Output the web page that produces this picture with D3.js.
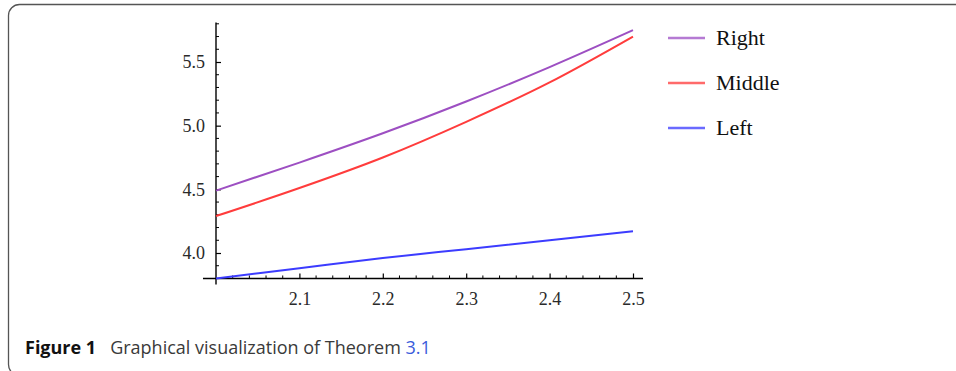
<!DOCTYPE html>
<html>
<head>
<meta charset="utf-8">
<script src="https://cdn.jsdelivr.net/npm/d3@7"></script>
<style>
  html, body { margin: 0; padding: 0; background: #fff; }
  .tick-label { font-family: "Liberation Serif", "Times New Roman", serif; font-size: 18px; fill: #2a2a2a; }
  .legend-label { font-family: "Liberation Serif", "Times New Roman", serif; font-size: 22px; fill: #111; }
</style>
</head>
<body>
<svg id="chart" width="956" height="371"></svg>
<script>
// values
const xValues = [2.0, 2.1, 2.2, 2.3, 2.4, 2.5];
const rightValues = [4.49, 4.71, 4.94, 5.19, 5.46, 5.75];
const middleValues = [4.29, 4.51, 4.75, 5.03, 5.34, 5.70];
const leftValues = [3.80, 3.88, 3.96, 4.03, 4.10, 4.17];

const seriesNames = ["Right", "Middle", "Left"];
const xTicks = [2.1, 2.2, 2.3, 2.4, 2.5];
const yTicks = [4.0, 4.5, 5.0, 5.5];

const colors = { Right: "#9d4fc2", Middle: "#ff3c3c", Left: "#3c3cff" };
const legendColors = { Right: "#b57ad3", Middle: "#ff6a6a", Left: "#6a6aff" };

const svg = d3.select("#chart");

// figure frame (rounded box, right/bottom run off the page)
svg.append("rect")
    .attr("x", 8.5).attr("y", 4.5)
    .attr("width", 1000).attr("height", 371)
    .attr("rx", 11)
    .attr("fill", "none")
    .attr("stroke", "#555")
    .attr("stroke-width", 1.3);

const x = d3.scaleLinear().domain([2.0, 2.5]).range([216, 633]);
const y = d3.scaleLinear().domain([4.0, 5.5]).range([253, 62]);

const xMin = 1.988, xMax = 2.512;
const yMin = 3.8, yMax = 5.81;

// minor ticks
const xMinor = d3.range(2.02, 2.501, 0.02).filter(v => !xTicks.some(t => Math.abs(t - v) < 1e-6));
const yMinor = d3.range(3.9, 5.81, 0.1).filter(v => !yTicks.some(t => Math.abs(t - v) < 1e-6));

svg.append("g")
    .attr("transform", `translate(0,${y(yMin)})`)
    .selectAll("line").data(xMinor).join("line")
    .attr("x1", d => x(d)).attr("x2", d => x(d))
    .attr("y1", 0).attr("y2", -3)
    .attr("stroke", "#000").attr("stroke-width", 1);

svg.append("g")
    .attr("transform", `translate(${x(2.0)},0)`)
    .selectAll("line").data(yMinor).join("line")
    .attr("y1", d => y(d)).attr("y2", d => y(d))
    .attr("x1", 0).attr("x2", 3)
    .attr("stroke", "#000").attr("stroke-width", 1);

// x axis
const xAxis = svg.append("g")
    .attr("transform", `translate(0,${y(yMin)})`)
    .call(d3.axisBottom(x).tickValues(xTicks).tickSizeInner(-5).tickSizeOuter(0).tickPadding(14).tickFormat(d3.format(".1f")));
xAxis.select(".domain").remove();
xAxis.selectAll(".tick line").attr("stroke-width", 1.2);
xAxis.selectAll(".tick text").attr("class", "tick-label").attr("font-family", null).attr("font-size", null).attr("fill", null);
xAxis.append("line")
    .attr("x1", x(xMin) - 3).attr("x2", x(xMax))
    .attr("stroke", "#000").attr("stroke-width", 1.4);

// y axis
const yAxis = svg.append("g")
    .attr("transform", `translate(${x(2.0)},0)`)
    .call(d3.axisLeft(y).tickValues(yTicks).tickSizeInner(-5).tickSizeOuter(0).tickPadding(11).tickFormat(d3.format(".1f")));
yAxis.select(".domain").remove();
yAxis.selectAll(".tick line").attr("stroke-width", 1.2);
yAxis.selectAll(".tick text").attr("class", "tick-label").attr("font-family", null).attr("font-size", null).attr("fill", null);
yAxis.append("line")
    .attr("y1", y(yMax)).attr("y2", y(yMin) + 6)
    .attr("stroke", "#000").attr("stroke-width", 1.4);

// series lines
const seriesData = {
    Right: xValues.map((v, i) => [v, rightValues[i]]),
    Middle: xValues.map((v, i) => [v, middleValues[i]]),
    Left: xValues.map((v, i) => [v, leftValues[i]])
};

const line = d3.line()
    .x(d => x(d[0]))
    .y(d => y(d[1]))
    .curve(d3.curveMonotoneX);

seriesNames.forEach(name => {
    svg.append("path")
        .datum(seriesData[name])
        .attr("d", line)
        .attr("fill", "none")
        .attr("stroke", colors[name])
        .attr("stroke-width", 2);
});

// legend
const legend = svg.append("g").attr("transform", "translate(668,38)");
seriesNames.forEach((name, i) => {
    const g = legend.append("g").attr("transform", `translate(0,${i * 45})`);
    g.append("line")
        .attr("x1", 0).attr("x2", 37)
        .attr("stroke", legendColors[name])
        .attr("stroke-width", 2.5);
    g.append("text")
        .attr("class", "legend-label")
        .attr("x", 48).attr("y", 7)
        .text(name);
});

// caption
const caption = svg.append("text")
    .attr("x", 25).attr("y", 354)
    .attr("font-family", "'Open Sans', 'Noto Sans', sans-serif")
    .attr("font-size", 18)
    .attr("fill", "#3a3a3a");
caption.append("tspan").attr("font-weight", "bold").attr("fill", "#111").text("Figure 1");
caption.append("tspan").attr("dx", 14).text("Graphical visualization of Theorem ");
caption.append("tspan").attr("fill", "#3b5bdb").text("3.1");
</script>
</body>
</html>
